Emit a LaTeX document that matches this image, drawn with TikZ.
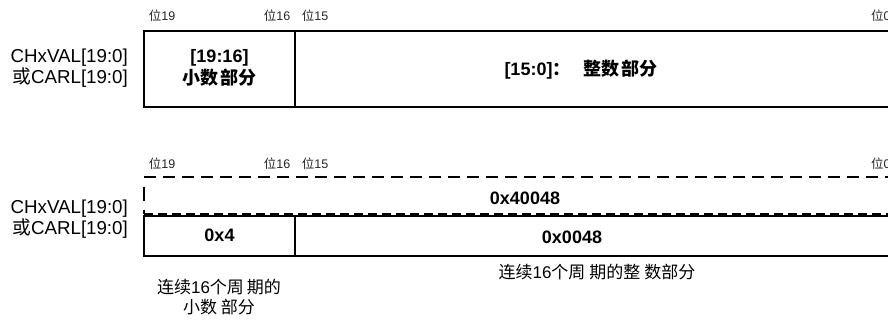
\documentclass[tikz,border=0pt]{standalone}
\usepackage{fontspec}
\setmainfont{Liberation Sans}
\newfontfamily\cjk{Noto Sans CJK SC}
\newcommand{\cg}[1]{{\cjk #1}}
\begin{document}
\begin{tikzpicture}[x=1pt,y=-1pt,
  box/.style={draw,line width=1.6pt,inner sep=0pt,outer sep=0pt,anchor=north west},
  bitlbl/.style={inner sep=0pt,font=\fontsize{12.5}{14}\selectfont,text=black!85},
  reglbl/.style={inner sep=0pt,align=right,anchor=east,font=\fontsize{18.7}{21}\selectfont},
  val/.style={inner sep=0pt,align=center,font=\fontsize{18}{22}\selectfont\bfseries},
  captxt/.style={inner sep=0pt,align=center,font=\fontsize{17}{20}\selectfont},
  dashline/.style={line width=1.6pt,dash pattern=on 12pt off 7pt}]
\useasboundingbox (0,0) rectangle (888,320);
% ---------- top register ----------
\node[box,minimum width=151pt,minimum height=76pt] (fracA) at (144,31) {};
\node[box,minimum width=600pt,minimum height=76pt] (intA) at (fracA.north east) {};
\node[val] (fracAt) at ([yshift=1pt]fracA.center) {[19:16]\\\cg{小数}\hspace{3pt}\cg{部分}};
\node[val] (intAt) at (581,70) {[15:0]\cg{：}\hspace{13pt}\cg{整数}\hspace{2pt}\cg{部分}};
\node[reglbl] (regA) at (128,68) {CHxVAL[19:0]\\\cg{或}CARL[19:0]};
\node[bitlbl] (b19a) at (162,16) {\cg{位}19};
\node[bitlbl] (b16a) at (277,16) {\cg{位}16};
\node[bitlbl] (b15a) at (315,16) {\cg{位}15};
\node[bitlbl,anchor=west] (b0a) at (871,16) {\cg{位}0};
% ---------- bottom register ----------
\coordinate (dTL) at (144,177);
\coordinate (dTR) at (895,177);
\coordinate (dBL) at (144,214);
\coordinate (dBR) at (895,214);
\draw[dashline] (dTL) -- (dTR);
\draw[line width=1.2pt,dash pattern=on 9pt off 5pt] (dBL) -- (dBR);
\draw[line width=1.6pt,dash pattern=on 0pt off 10pt on 14pt off 9pt on 6pt off 20pt] (dTL) -- (dBL);
\node[val] (full) at (525,198) {0x40048};
\node[box,minimum width=151pt,minimum height=40pt] (fracB) at (144,216) {};
\node[box,minimum width=600pt,minimum height=40pt] (intB) at (fracB.north east) {};
\node[val] (fracBt) at ([yshift=1pt]fracB.center) {0x4};
\node[val] (intBt) at (572,237) {0x0048};
\node[reglbl] (regB) at (128,219) {CHxVAL[19:0]\\\cg{或}CARL[19:0]};
\node[bitlbl] (b19b) at (162,164) {\cg{位}19};
\node[bitlbl] (b16b) at (277,164) {\cg{位}16};
\node[bitlbl] (b15b) at (315,164) {\cg{位}15};
\node[bitlbl,anchor=west] (b0b) at (871,164) {\cg{位}0};
\node[captxt] (capA) at (219,297) {\cg{连续}16\cg{个周}\hspace{3pt}\cg{期的}\\\cg{小数}\hspace{4pt}\cg{部分}};
\node[captxt] (capB) at (597,272) {\cg{连续}16\cg{个周}\hspace{4pt}\cg{期的整}\hspace{4pt}\cg{数部分}};
\end{tikzpicture}
\end{document}
